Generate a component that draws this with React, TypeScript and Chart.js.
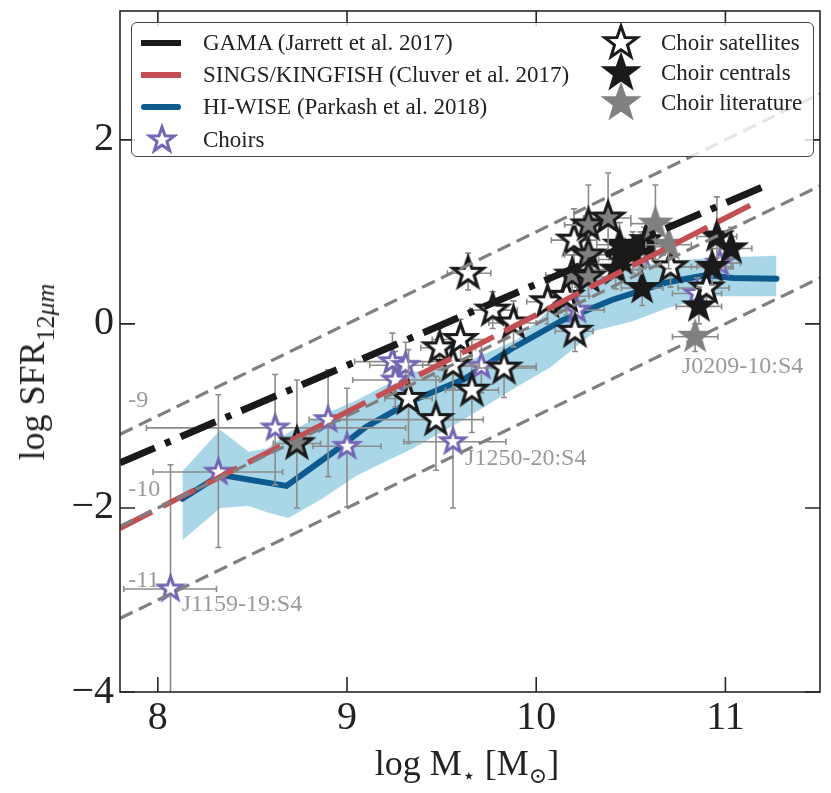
import { useEffect, useRef } from 'react'
import { Chart, registerables } from 'chart.js'
Chart.register(...registerables)

const X_TICKS = [8, 9, 10, 11]
const Y_TICKS = [-4, -2, 0, 2]

// constant sSFR guide lines (-9, -10, -11)
const SSFR_X = [7.8, 11.5]
const SSFR9_Y = [-1.2, 2.5]
const SSFR10_Y = [-2.2, 1.5]
const SSFR11_Y = [-3.2, 0.5]

const GAMA_X = [7.8, 11.2]
const GAMA_Y = [-1.51, 1.49]
const SINGS_X = [7.8, 11.17]
const SINGS_Y = [-2.22, 1.33]

const HIWISE_X = [8.13, 8.33, 8.68, 8.93, 9.1, 9.35, 9.62, 9.87, 10.14, 10.4, 10.69, 10.9, 11.04, 11.27]
const HIWISE_Y = [-1.9, -1.64, -1.76, -1.39, -1.12, -0.83, -0.6, -0.27, 0.04, 0.26, 0.45, 0.53, 0.5, 0.49]

const BAND_X = [8.13, 8.33, 8.48, 8.58, 8.69, 8.86, 9.05, 9.19, 9.35, 9.6, 9.9, 10.07, 10.32, 10.51, 10.69, 10.93, 11.27]
const BAND_HI = [-1.6, -1.15, -1.39, -1.35, -1.18, -1.0, -0.83, -0.68, -0.52, -0.44, -0.17, 0.15, 0.5, 0.62, 0.68, 0.72, 0.74]
const BAND_LO = [-2.35, -2.0, -1.98, -2.05, -2.11, -1.91, -1.65, -1.51, -1.35, -1.06, -0.68, -0.48, -0.07, 0.03, 0.17, 0.3, 0.3]

// error boxes are [xlo, xhi, ylo, yhi]
const CHOIR_X = [8.067, 8.32, 8.62, 8.9, 9.0, 9.24, 9.31, 9.255, 9.56, 9.71, 10.215, 10.55, 10.97, 10.85]
const CHOIR_Y = [-2.88, -1.61, -1.13, -1.04, -1.33, -0.41, -0.45, -0.61, -1.28, -0.46, 0.15, 0.77, 0.66, 0.33]
const CHOIR_ERR = [
    [7.82, 8.31, -4.5, -1.53], [7.975, 8.66, -2.43, -0.77], [7.94, 9.31, -1.75, -0.55], [8.8, 9.0, -1.66, -0.5],
    [8.82, 9.18, -1.99, -0.7], [9.04, 9.54, -0.72, -0.1], [9.12, 9.5, -0.75, -0.2], [9.03, 9.49, -0.9, -0.3],
    [9.3, 9.84, -2.0, -0.5], [9.56, 10.0, -0.75, -0.2], [10.08, 10.36, -0.1, 0.4], [10.42, 10.68, 0.55, 1.0],
    [10.86, 11.08, 0.45, 0.9], [10.72, 10.98, 0.15, 0.5],
]

const SAT_X = [9.64, 9.325, 9.47, 9.49, 9.6, 9.56, 9.66, 9.83, 9.77, 9.88, 10.06, 10.16, 10.205, 10.2, 10.71, 10.9]
const SAT_Y = [0.55, -0.81, -1.04, -0.26, -0.17, -0.45, -0.72, -0.48, 0.15, 0.01, 0.24, 0.3, -0.08, 0.91, 0.62, 0.39]
const SAT_ERR = [
    [9.53, 9.76, 0.37, 0.77], [9.2, 9.45, -1.3, -0.28], [8.96, 9.72, -1.59, -0.57], [9.39, 9.68, -0.5, -0.05],
    [9.45, 9.75, -0.4, 0.05], [9.4, 9.7, -0.7, -0.2], [9.52, 9.8, -1.18, -0.17], [9.69, 10.0, -0.8, -0.17],
    [9.65, 9.9, -0.05, 0.35], [9.75, 10.0, -0.25, 0.25], [9.95, 10.18, 0.0, 0.45], [10.05, 10.28, 0.1, 0.5],
    [10.1, 10.3, -0.3, 0.15], [10.08, 10.32, 0.6, 1.25], [10.58, 10.85, 0.4, 0.85], [10.75, 11.02, 0.2, 0.6],
]

const CEN_X = [10.44, 10.45, 10.51, 10.57, 10.42, 10.56, 10.955, 11.03, 10.93, 10.86, 10.58]
const CEN_Y = [0.86, 0.7, 0.77, 0.84, 0.59, 0.39, 0.95, 0.82, 0.62, 0.19, 0.91]
const CEN_ERR = [
    [10.32, 10.56, 0.65, 1.1], [10.33, 10.57, 0.5, 0.9], [10.4, 10.62, 0.55, 1.0], [10.46, 10.68, 0.62, 1.05],
    [10.3, 10.54, 0.38, 0.8], [10.45, 10.67, 0.2, 0.6], [10.85, 11.06, 0.72, 1.38], [10.92, 11.14, 0.6, 1.05],
    [10.82, 11.04, 0.42, 0.82], [10.74, 10.98, 0.0, 0.4], [10.47, 10.69, 0.7, 1.12],
]

// literature points drawn with a dark edge
const LIT_X = [8.735, 10.276, 10.38, 10.276, 10.19, 10.276]
const LIT_Y = [-1.3, 1.076, 1.15, 0.75, 0.53, 0.51]
const LIT_ERR = [
    [8.61, 8.86, -2.0, -0.61], [10.15, 10.4, 0.7, 1.51], [10.25, 10.5, 0.8, 1.64],
    [10.15, 10.4, 0.5, 1.0], [10.05, 10.3, 0.3, 0.75], [10.15, 10.4, 0.3, 0.75],
]
// literature points drawn plain grey
const LIT2_X = [10.63, 10.7, 10.84]
const LIT2_Y = [1.09, 0.86, -0.14]
const LIT2_ERR = [[10.5, 10.75, 0.7, 1.51], [10.58, 10.82, 0.6, 1.1], [10.72, 10.96, -0.3, 0.0]]

const SSFR_LABELS = ['-9', '-10', '-11']
const SSFR_LABEL_X = [7.843, 7.843, 7.843]
const SSFR_LABEL_Y = [-0.83, -1.8, -2.79]
const NAME_LABELS = ['J1159-19:S4', 'J1250-20:S4', 'J0209-10:S4']
const NAME_X = [8.126, 9.624, 10.77]
const NAME_Y = [-3.05, -1.47, -0.46]

const BLACK = '#1a1a1a'
const RED = '#c44e52'
const BLUE = '#0c5a8f'
const BAND = '#a9d7e7'
const PURPLE = '#7464b6'
const GREY = '#808080'
const ERR = '#8c8c8c'
const SERIF = '"Liberation Serif", "DejaVu Serif", serif'

const pts = (xs: number[], ys: number[]) => xs.map((x, i) => ({ x, y: ys[i] }))

function starPoints(cx: number, cy: number, r: number): [number, number][] {
    const out: [number, number][] = []
    for (let i = 0; i < 10; i++) {
        const a = -Math.PI / 2 + (i * Math.PI) / 5
        const rr = i % 2 === 0 ? r : r * 0.4
        out.push([cx + rr * Math.cos(a), cy + rr * Math.sin(a)])
    }
    return out
}

function starImage(r: number, fill: string, stroke: string, lw: number) {
    const size = Math.ceil(2 * (r + lw + 2))
    const c = document.createElement('canvas')
    c.width = size; c.height = size
    const ctx = c.getContext('2d')!
    ctx.beginPath()
    starPoints(size / 2, size / 2, r).forEach(([x, y], i) => i ? ctx.lineTo(x, y) : ctx.moveTo(x, y))
    ctx.closePath()
    ctx.fillStyle = fill; ctx.fill()
    ctx.lineJoin = 'miter'; ctx.lineWidth = lw; ctx.strokeStyle = stroke; ctx.stroke()
    return c
}

function StarSvg({ r, fill, stroke, lw }: { r: number; fill: string; stroke: string; lw: number }) {
    const s = 2 * (r + lw + 2)
    const p = starPoints(s / 2, s / 2, r).map(q => q.join(',')).join(' ')
    return (
        <svg width={s} height={s} style={{ display: 'block' }}>
            <polygon points={p} fill={fill} stroke={stroke} strokeWidth={lw} />
        </svg>
    )
}

const errorBarPlugin = {
    id: 'errorBars',
    beforeDatasetDraw(chart: any, args: any) {
        const ds = chart.data.datasets[args.index]
        if (!ds.errors) return
        const { ctx, chartArea: a, scales } = chart
        const sx = scales.x, sy = scales.y
        ctx.save()
        ctx.beginPath(); ctx.rect(a.left, a.top, a.right - a.left, a.bottom - a.top); ctx.clip()
        ctx.strokeStyle = ERR; ctx.lineWidth = 1.6
        ds.errors.forEach((e: number[], i: number) => {
            const p = ds.data[i]
            const px = sx.getPixelForValue(p.x), py = sy.getPixelForValue(p.y)
            const x0 = sx.getPixelForValue(e[0]), x1 = sx.getPixelForValue(e[1])
            const y0 = sy.getPixelForValue(e[2]), y1 = sy.getPixelForValue(e[3])
            ctx.beginPath()
            ctx.moveTo(x0, py); ctx.lineTo(x1, py)
            ctx.moveTo(px, y0); ctx.lineTo(px, y1)
            ctx.moveTo(x0, py - 3); ctx.lineTo(x0, py + 3)
            ctx.moveTo(x1, py - 3); ctx.lineTo(x1, py + 3)
            ctx.moveTo(px - 3, y0); ctx.lineTo(px + 3, y0)
            ctx.moveTo(px - 3, y1); ctx.lineTo(px + 3, y1)
            ctx.stroke()
        })
        ctx.restore()
    },
}

const labelPlugin = {
    id: 'labels',
    beforeDatasetsDraw(chart: any) {
        const { ctx, scales } = chart
        ctx.save()
        ctx.fillStyle = '#9a9a9a'; ctx.textAlign = 'left'; ctx.textBaseline = 'middle'
        ctx.font = `24px ${SERIF}`
        SSFR_LABELS.forEach((t, i) => ctx.fillText(t, scales.x.getPixelForValue(SSFR_LABEL_X[i]), scales.y.getPixelForValue(SSFR_LABEL_Y[i])))
        NAME_LABELS.forEach((t, i) => ctx.fillText(t, scales.x.getPixelForValue(NAME_X[i]), scales.y.getPixelForValue(NAME_Y[i])))
        ctx.restore()
    },
}

const framePlugin = {
    id: 'frame',
    afterDatasetsDraw(chart: any) {
        const { ctx, chartArea: a, scales } = chart
        ctx.save()
        ctx.strokeStyle = '#262626'; ctx.lineWidth = 1.6
        ctx.strokeRect(a.left, a.top, a.right - a.left, a.bottom - a.top)
        ctx.beginPath()
        X_TICKS.forEach(v => {
            const p = scales.x.getPixelForValue(v)
            ctx.moveTo(p, a.bottom); ctx.lineTo(p, a.bottom - 15)
            ctx.moveTo(p, a.top); ctx.lineTo(p, a.top + 15)
        })
        Y_TICKS.forEach(v => {
            const p = scales.y.getPixelForValue(v)
            ctx.moveTo(a.left, p); ctx.lineTo(a.left + 15, p)
            ctx.moveTo(a.right, p); ctx.lineTo(a.right - 15, p)
        })
        ctx.stroke()
        ctx.restore()
    },
}

const fmtTick = (v: number) => (v < 0 ? '\u2212' + Math.abs(v) : String(v))

export default function App() {
    const canvasRef = useRef<HTMLCanvasElement>(null)
    const chartRef = useRef<Chart | null>(null)

    useEffect(() => {
        if (!canvasRef.current) return
        const choirStar = starImage(12.5, 'white', PURPLE, 3)
        const satStar = starImage(16, 'white', BLACK, 3.2)
        const cenStar = starImage(16, BLACK, BLACK, 2)
        const litStar = starImage(16, GREY, BLACK, 3)
        const lit2Star = starImage(16, GREY, GREY, 2)

        const line = (data: any, color: string, width: number, dash: number[], order: number, cap: CanvasLineCap = 'butt') => ({
            data, showLine: true, borderColor: color, borderWidth: width, borderDash: dash, borderCapStyle: cap,
            pointRadius: 0, fill: false, tension: 0, order,
        })
        const stars = (data: any, img: HTMLCanvasElement, errors: number[][], order: number) => ({
            data, showLine: false, pointStyle: img, pointRadius: 5, errors, order,
        })

        chartRef.current?.destroy()
        chartRef.current = new Chart(canvasRef.current, {
            type: 'scatter',
            plugins: [errorBarPlugin, labelPlugin, framePlugin],
            data: {
                datasets: [
                    line(pts(SSFR_X, SSFR9_Y), GREY, 3.2, [14, 7], 0),
                    line(pts(SSFR_X, SSFR10_Y), GREY, 3.2, [14, 7], 0),
                    line(pts(SSFR_X, SSFR11_Y), GREY, 3.2, [14, 7], 0),
                    line(pts(GAMA_X, GAMA_Y), BLACK, 7, [38, 11, 6, 11], 1),
                    line(pts(SINGS_X, SINGS_Y), RED, 5.5, [36, 12], 2),
                    stars(pts(LIT2_X, LIT2_Y), lit2Star, LIT2_ERR, 3),
                    stars(pts(LIT_X, LIT_Y), litStar, LIT_ERR, 4),
                    stars(pts(CEN_X, CEN_Y), cenStar, CEN_ERR, 5),
                    stars(pts(SAT_X, SAT_Y), satStar, SAT_ERR, 6),
                    stars(pts(CHOIR_X, CHOIR_Y), choirStar, CHOIR_ERR, 7),
                    line(pts(HIWISE_X, HIWISE_Y), BLUE, 6, [], 8, 'round'),
                    { ...line(pts(BAND_X, BAND_HI), BAND, 0, [], 9), fill: '+1', backgroundColor: BAND },
                    line(pts(BAND_X, BAND_LO), BAND, 0, [], 10),
                ] as any,
            },
            options: {
                animation: false,
                responsive: true,
                maintainAspectRatio: false,
                layout: { padding: { top: 11, right: 11, left: 0, bottom: 0 } },
                plugins: {
                    legend: { display: false },
                    tooltip: { enabled: false },
                    filler: { drawTime: 'beforeDatasetsDraw' },
                } as any,
                scales: {
                    x: {
                        type: 'linear', min: 7.8, max: 11.5,
                        afterBuildTicks: (s: any) => { s.ticks = X_TICKS.map(v => ({ value: v })) },
                        afterFit: (s: any) => { s.height = 101; s.paddingLeft = 0; s.paddingRight = 0 },
                        grid: { display: false, drawTicks: false },
                        border: { display: false },
                        ticks: { color: '#222', font: { size: 40, family: SERIF }, padding: 2, autoSkip: false, maxRotation: 0, callback: (v: any) => fmtTick(Number(v)) },
                    },
                    y: {
                        type: 'linear', min: -4, max: 3.4,
                        afterBuildTicks: (s: any) => { s.ticks = Y_TICKS.map(v => ({ value: v })) },
                        afterFit: (s: any) => { s.width = 120; s.paddingTop = 0; s.paddingBottom = 0 },
                        grid: { display: false, drawTicks: false },
                        border: { display: false },
                        ticks: { color: '#222', font: { size: 40, family: SERIF }, padding: 6, autoSkip: false, callback: (v: any) => fmtTick(Number(v)) },
                    },
                },
            },
        })
        return () => chartRef.current?.destroy()
    }, [])

    const textStyle = { font: `23px ${SERIF}`, color: '#222', whiteSpace: 'nowrap' as const }
    const leftRows = [
        { label: 'GAMA (Jarrett et al. 2017)', color: BLACK },
        { label: 'SINGS/KINGFISH (Cluver et al. 2017)', color: RED },
        { label: 'HI-WISE (Parkash et al. 2018)', color: BLUE },
    ]
    const rightRows = [
        { label: 'Choir satellites', fill: 'white', stroke: BLACK },
        { label: 'Choir centrals', fill: BLACK, stroke: BLACK },
        { label: 'Choir literature', fill: GREY, stroke: GREY },
    ]

    return (
        <div style={{ position: 'absolute', left: 0, top: 0, width: 831, height: 793, background: 'white' }}>
            <canvas ref={canvasRef} />
            <div style={{ position: 'absolute', left: 131, top: 22, width: 683, height: 135, boxSizing: 'border-box', border: '1.5px solid #444', borderRadius: 6, background: 'rgba(255,255,255,0.8)' }}>
                {leftRows.map((r, i) => (
                    <div key={r.label} style={{ position: 'absolute', left: 0, top: 4 + i * 32.2, height: 32, display: 'flex', alignItems: 'center' }}>
                        <div style={{ marginLeft: 9, width: 40, height: 6, background: r.color, borderRadius: i === 2 ? 3 : 0 }} />
                        <div style={{ ...textStyle, marginLeft: 22 }}>{r.label}</div>
                    </div>
                ))}
                <div style={{ position: 'absolute', left: 0, top: 4 + 3 * 32.2, height: 32, display: 'flex', alignItems: 'center' }}>
                    <div style={{ marginLeft: 12, width: 34, display: 'flex', justifyContent: 'center' }}>
                        <StarSvg r={13} fill="white" stroke={PURPLE} lw={3} />
                    </div>
                    <div style={{ ...textStyle, marginLeft: 25 }}>Choirs</div>
                </div>
                {rightRows.map((r, i) => (
                    <div key={r.label} style={{ position: 'absolute', left: 466, top: 4 + i * 30, height: 32, display: 'flex', alignItems: 'center' }}>
                        <div style={{ width: 46, display: 'flex', justifyContent: 'center' }}>
                            <StarSvg r={17} fill={r.fill} stroke={r.stroke} lw={3} />
                        </div>
                        <div style={{ ...textStyle, marginLeft: 17 }}>{r.label}</div>
                    </div>
                ))}
            </div>
            <div style={{ position: 'absolute', left: 32, top: 372, transform: 'translate(-50%, -50%) rotate(-90deg)', font: `36px ${SERIF}`, color: '#222', whiteSpace: 'nowrap' }}>
                log SFR<span style={{ fontSize: 26, position: 'relative', top: 10 }}>12<i>μm</i></span>
            </div>
            <div style={{ position: 'absolute', left: 467, top: 763, transform: 'translate(-50%, -50%)', font: `36px ${SERIF}`, color: '#222', whiteSpace: 'nowrap' }}>
                log M<span style={{ fontSize: 22, position: 'relative', top: 8 }}>⋆</span> [M<span style={{ fontSize: 22, position: 'relative', top: 8 }}>⊙</span>]
            </div>
        </div>
    )
}
